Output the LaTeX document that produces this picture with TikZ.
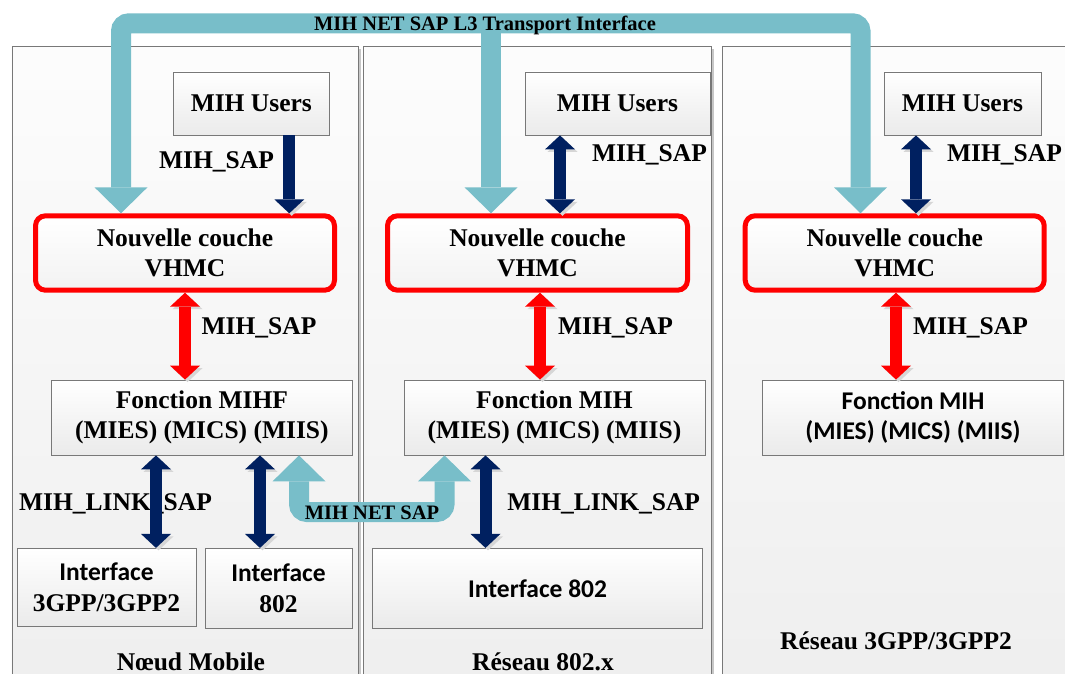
\documentclass[tikz,border=0pt]{standalone}
\usepackage{fontspec}
\setmainfont{Liberation Serif}
\newfontfamily\calfont{Carlito}
\usetikzlibrary{arrows.meta,calc,shadows}
\definecolor{cyanband}{RGB}{120,190,201}
\definecolor{navyblue}{RGB}{0,32,96}
\definecolor{edgegray}{RGB}{120,120,120}
\begin{document}
\begin{tikzpicture}[x=1pt,y=-1pt,
  font=\fontsize{25.5}{30.5}\selectfont\bfseries,
  panel/.style={draw=edgegray, line width=0.8pt, top color=black!1, bottom color=black!7,
    anchor=north west, minimum height=700, inner sep=0pt,
    drop shadow={shadow xshift=3pt, shadow yshift=-3pt, fill=black!22, opacity=1}},
  box/.style={draw=edgegray, line width=0.8pt, top color=white, bottom color=black!8,
    inner sep=0pt, align=center},
  vhmc/.style={draw=red, line width=5pt, rounded corners=10pt, top color=white,
    bottom color=black!5, inner sep=0pt, align=center, minimum height=74.4},
  calf/.style={font=\fontsize{25.5}{30.5}\selectfont\calfont\bfseries},
  lbl/.style={anchor=base, inner sep=0pt},
  shadowed/.style={preaction={draw=black!16, transform canvas={shift={(2.5pt,-2.5pt)}}}},
  navyone/.style={shadowed, draw=navyblue, line width=12pt,
    arrows={-Triangle[width=30pt,length=14pt,line width=0pt]}},
  navytwo/.style={shadowed, draw=navyblue, line width=12pt,
    arrows={Triangle[width=30pt,length=14pt,line width=0pt]-Triangle[width=30pt,length=14pt,line width=0pt]}},
  redtwo/.style={shadowed, draw=red, line width=11.5pt,
    arrows={Triangle[width=30pt,length=14pt,line width=0pt]-Triangle[width=30pt,length=14pt,line width=0pt]}},
  cyanone/.style={draw=cyanband, line width=20pt,
    arrows={-Triangle[width=53pt,length=26pt,line width=0pt]}},
  cyantwo/.style={draw=cyanband, line width=20pt, rounded corners=8pt,
    arrows={Triangle[width=53pt,length=26pt,line width=0pt]-Triangle[width=53pt,length=26pt,line width=0pt]}},
  bandtext/.style={anchor=base, inner sep=0pt, font=\fontsize{20.5}{24}\selectfont\bfseries}
]
\clip (0,0) rectangle (1065,674);
\fill[white] (0,0) rectangle (1065,674);

% panels
\node[panel, minimum width=346.5] (p1) at (11.5,45.7) {};
\node[panel, minimum width=347.7] (p2) at (363,45.7) {};
\node[panel, minimum width=360] (p3) at (722,45.7) {};

% MIH Users
\node[box, minimum width=156.5, minimum height=63] (u1) at (251.3,103.5) {MIH Users};
\node[box, minimum width=185, minimum height=63] (u2) at (617.5,103.5) {MIH Users};
\node[box, minimum width=157, minimum height=63] (u3) at (962.5,103.5) {MIH Users};

% VHMC
\node[vhmc, minimum width=299] (v1) at (185,253) {Nouvelle couche\\VHMC};
\node[vhmc, minimum width=300] (v2) at (537.5,253) {Nouvelle couche\\VHMC};
\node[vhmc, minimum width=299] (v3) at (894.7,253) {Nouvelle couche\\VHMC};

% Fonction
\node[box, minimum width=300.3, minimum height=75] (f1) at (201.9,417.5) {Fonction MIHF\\(MIES) (MICS) (MIIS)};
\node[box, minimum width=301, minimum height=75] (f2) at (554.5,417.5) {Fonction MIH\\(MIES) (MICS) (MIIS)};
\node[box, calf, minimum width=301, minimum height=75] (f3) at (913,417.5) {Fonction MIH\\(MIES) (MICS) (MIIS)};

% Interfaces
\node[box, calf, minimum width=179, minimum height=78.4] (i1) at (106.5,587.5) {Interface\\{\rmfamily 3GPP/3GPP2}};
\node[box, calf, minimum width=147, minimum height=80] (i2) at (278.5,588.3) {Interface\\{\rmfamily 802}};
\node[box, calf, minimum width=330, minimum height=80] (i3) at (537.6,588.3) {Interface 802};

% labels
\node[lbl] (s1) at (216.5,168.3) {MIH\_SAP};
\node[lbl] (s2) at (649.5,161) {MIH\_SAP};
\node[lbl] (s3) at (1004.5,161) {MIH\_SAP};
\node[lbl] (s4) at (259,334) {MIH\_SAP};
\node[lbl] (s5) at (615.5,334) {MIH\_SAP};
\node[lbl] (s6) at (970.5,334) {MIH\_SAP};
\node[lbl] (k1) at (115.5,510) {MIH\_LINK\_SAP};
\node[lbl] (k2) at (603.7,510) {MIH\_LINK\_SAP};
\node[lbl] (t1) at (191,670) {Nœud Mobile};
\node[lbl] (t2) at (543,670.5) {Réseau 802.x};
\node[lbl] (t3) at (896,649.3) {Réseau 3GPP/3GPP2};

% navy arrows
\draw[navyone] ($(u1.south)+(38,0)$) -- ($(v1.north)+(104.3,0)$);
\draw[navytwo] ($(u2.south)+(-57.5,0)$) -- ($(v2.north)+(22.5,0)$);
\draw[navytwo] ($(u3.south)+(-46.5,0)$) -- ($(v3.north)+(21.3,0)$);
\draw[navytwo] ($(f1.south)+(-45.9,0)$) -- ($(i1.north)+(49.5,0)$);
\draw[navytwo] ($(f1.south)+(58.1,0)$) -- ($(i2.north)+(-18.5,0)$);
\draw[navytwo] ($(f2.south)+(-69,0)$) -- ($(i3.north)+(-52.1,0)$);

% red arrows
\draw[redtwo] (v1.south) -- ($(f1.north)+(-16.9,0)$);
\draw[redtwo] ($(v2.south)+(2.5,0)$) -- ($(f2.north)+(-14.5,0)$);
\draw[redtwo] ($(v3.south)+(1.3,0)$) -- ($(f3.north)+(-17,0)$);

% cyan top band
\coordinate (tl) at (121,23.3);
\coordinate (tm) at (491,23.3);
\coordinate (tr) at (860.5,23.3);
\draw[cyantwo] (v1.north -| tl) -- (tl) -- (tr) -- (v3.north -| tr);
\draw[cyanone] (tm) -- (v2.north -| tm);
\node[bandtext] (tt) at (485,30.7) {MIH NET SAP L3 Transport Interface};

% cyan bottom band
\coordinate (nl) at (299,512);
\coordinate (nr) at (444.5,512);
\draw[cyantwo] (f1.south -| nl) -- (nl) -- (nr) -- (f2.south -| nr);
\node[bandtext] (nt) at (372,519.3) {MIH NET SAP};
\end{tikzpicture}
\end{document}
